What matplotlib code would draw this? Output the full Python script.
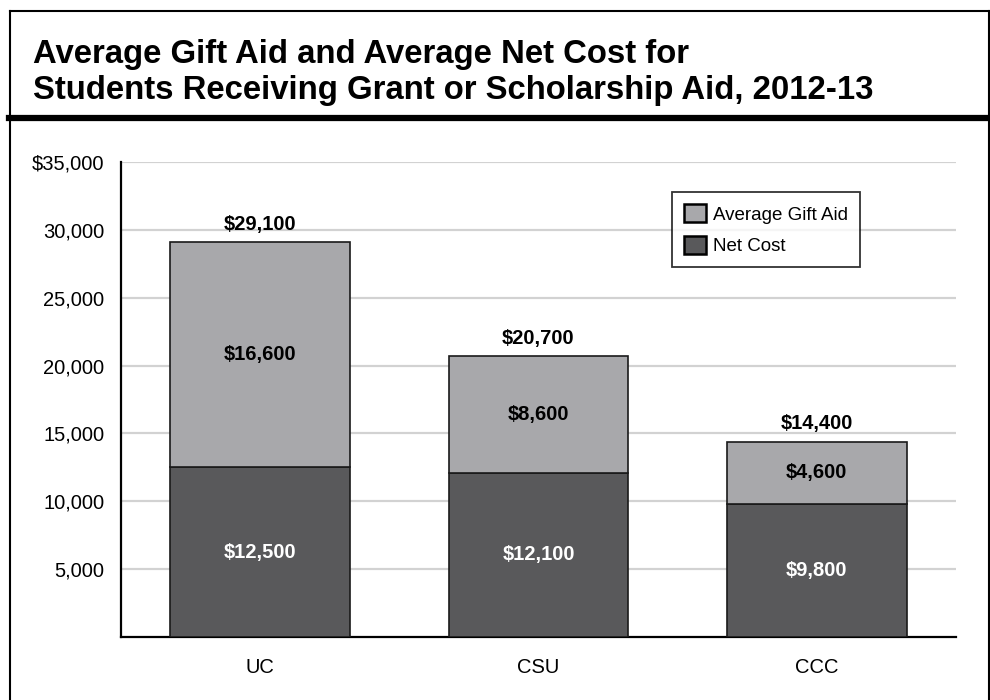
import matplotlib.pyplot as plt
from matplotlib.lines import Line2D
import numpy as np

# Data (2012-13, students receiving grant or scholarship aid)
segments = ["UC", "CSU", "CCC"]
net_cost = [12500, 12100, 9800]
gift_aid = [16600, 8600, 4600]
yticks = [5000, 10000, 15000, 20000, 25000, 30000, 35000]
ytick_labels = ["5,000", "10,000", "15,000", "20,000", "25,000", "30,000", "$35,000"]

light = "#a8a8ab"
dark = "#59595b"

plt.rcParams["font.family"] = ["Liberation Sans", "DejaVu Sans"]

fig = plt.figure(figsize=(9.9, 7), dpi=100)
ax = fig.add_axes([121 / 990, 1 - 637 / 700, (956 - 121) / 990, (637 - 162) / 700])

x = np.arange(len(segments))
width = 0.645
totals = [n + g for n, g in zip(net_cost, gift_aid)]

ax.bar(x, net_cost, width, color=dark, edgecolor="#1a1a1a", linewidth=1.2,
       label="Net Cost", zorder=3)
ax.bar(x, gift_aid, width, bottom=net_cost, color=light, edgecolor="#1a1a1a",
       linewidth=1.2, label="Average Gift Aid", zorder=3)

# labels inside segments and totals on top
for i in range(len(segments)):
    ax.text(x[i], net_cost[i] / 2, f"${net_cost[i]:,}", ha="center", va="center",
            color="white", fontsize=14.5, fontweight="bold", zorder=4)
    ax.text(x[i], net_cost[i] + gift_aid[i] / 2, f"${gift_aid[i]:,}", ha="center",
            va="center", color="black", fontsize=14.5, fontweight="bold", zorder=4)
    ax.annotate(f"${totals[i]:,}", (x[i], totals[i]), xytext=(0, 6),
                textcoords="offset points", ha="center", va="bottom",
                fontsize=14.5, fontweight="bold")

ax.set_xlim(-0.5, 2.5)
ax.set_ylim(0, 35000)
ax.set_yticks(yticks)
ax.set_yticklabels(ytick_labels, fontsize=14.5)
ax.set_xticks(x)
ax.set_xticklabels(segments, fontsize=14.5)
ax.tick_params(axis="both", length=0)
ax.tick_params(axis="y", pad=12)
ax.tick_params(axis="x", pad=15)
ax.yaxis.grid(True, color="#d2d2d2", linewidth=1.6, zorder=0)
ax.set_axisbelow(True)
for side in ["top", "right"]:
    ax.spines[side].set_visible(False)
for side in ["left", "bottom"]:
    ax.spines[side].set_linewidth(1.6)
    ax.spines[side].set_color("black")

handles, labels = ax.get_legend_handles_labels()
leg = ax.legend(handles[::-1], labels[::-1], loc="upper left",
                bbox_to_anchor=(672 / 990, 1 - 192 / 700),
                bbox_transform=fig.transFigure, fontsize=13.5, fancybox=False,
                edgecolor="black", handlelength=1.15, handleheight=1.1,
                handletextpad=0.4, borderpad=0.65, labelspacing=0.65,
                borderaxespad=0)
leg.get_frame().set_linewidth(1.3)
for h in leg.legend_handles:
    h.set_edgecolor("black")
    h.set_linewidth(1.8)

# outer frame and title band
W, H = 990, 700
frame_kw = dict(color="black", linewidth=1.5, transform=fig.transFigure)
fig.add_artist(Line2D([9.5 / W, 9.5 / W], [0, 1 - 10.5 / H], **frame_kw))
fig.add_artist(Line2D([9.5 / W, 988.5 / W], [1 - 10.5 / H, 1 - 10.5 / H], **frame_kw))
fig.add_artist(Line2D([988.5 / W, 988.5 / W], [0, 1 - 10.5 / H], **frame_kw))
fig.add_artist(Line2D([9 / W, 989 / W], [1 - 118 / H, 1 - 118 / H], color="black",
                      linewidth=4.5, transform=fig.transFigure))

fig.text(33 / W, 1 - 63 / H, "Average Gift Aid and Average Net Cost for",
         fontsize=23.7, fontweight="bold", ha="left", va="baseline")
fig.text(33 / W, 1 - 99 / H, "Students Receiving Grant or Scholarship Aid, 2012-13",
         fontsize=23.7, fontweight="bold", ha="left", va="baseline")

fig.savefig("out.png", dpi=100)
